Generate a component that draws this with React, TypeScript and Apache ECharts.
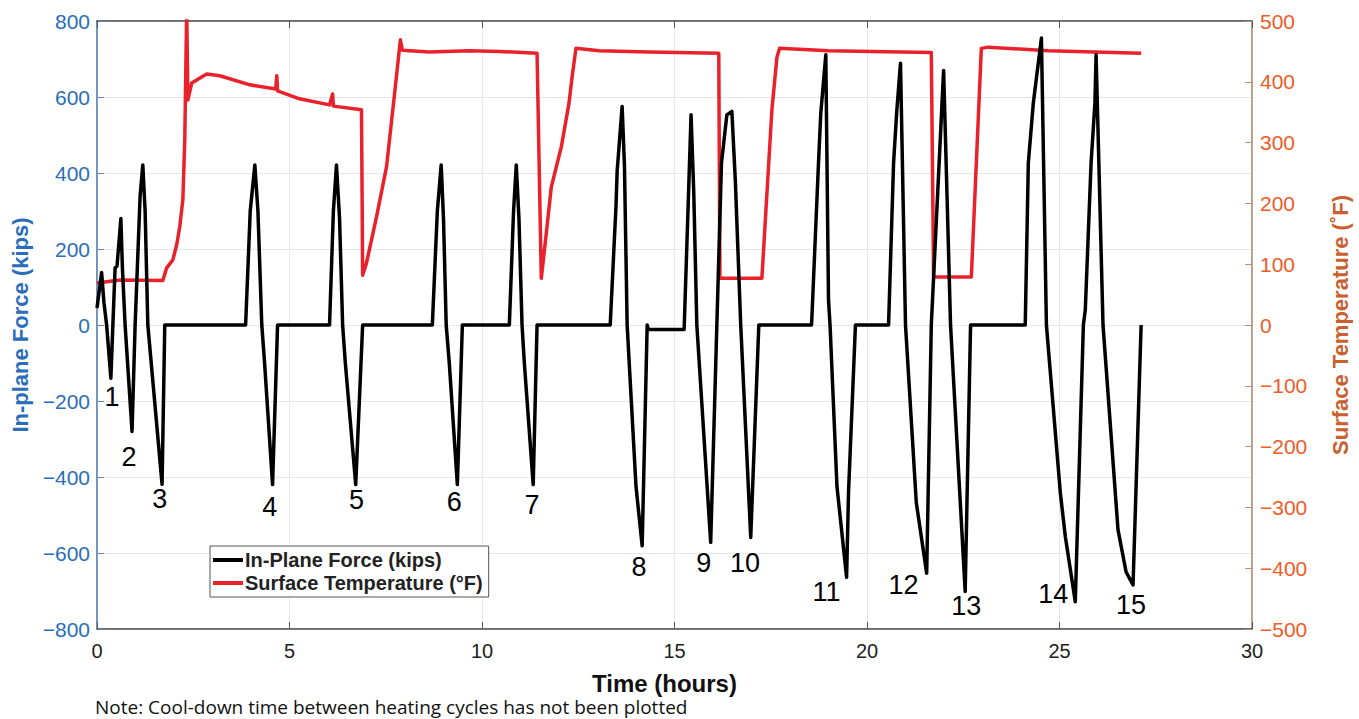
import React, { useEffect, useRef } from "react";
import * as echarts from "echarts";

// ---- Data ----
const forceTime = [
  0.0, 0.12, 0.18, 0.25, 0.36, 0.42, 0.47, 0.52, 0.62, 0.66, 0.73, 0.91, 0.99, 1.12, 1.19, 1.25, 1.32, 1.69, 1.76,
  3.86, 3.98, 4.10, 4.18, 4.28, 4.35, 4.56, 4.69,
  6.04, 6.14, 6.22, 6.30, 6.38, 6.45, 6.72, 6.90,
  8.71, 8.84, 8.94, 9.00, 9.07, 9.15, 9.36, 9.49,
  10.71, 10.82, 10.89, 10.96, 11.04, 11.10, 11.33, 11.43,
  13.33, 13.48, 13.51, 13.64, 13.70, 13.77, 14.00, 14.16, 14.29, 14.32, 15.25, 15.35, 15.43, 15.50, 15.58, 15.94,
  16.10, 16.22, 16.36, 16.49, 16.58, 16.72, 16.98, 17.19,
  18.56, 18.74, 18.80, 18.93, 19.00, 19.04, 19.22, 19.47, 19.52, 19.70,
  20.56, 20.69, 20.77, 20.87, 21.00, 21.28, 21.55, 21.67, 21.94, 21.99, 22.17, 22.55, 22.69,
  24.11, 24.19, 24.32, 24.53, 24.66, 25.02, 25.15, 25.41, 25.62, 25.67, 25.82, 25.92, 25.95, 26.13, 26.52, 26.73, 26.91, 27.12,
];
const forceKips = [
  45, 138, 60, 0, -140, 20, 150, 155, 280, 150, 0, -280, 0, 340, 421, 300, 0, -419, 0,
  0, 300, 421, 300, 0, -96, -420, 0,
  0, 300, 421, 280, 0, -100, -420, 0,
  0, 300, 421, 280, 0, -100, -420, 0,
  0, 300, 421, 280, 0, -100, -420, 0,
  0, 312, 404, 575, 420, 0, -425, -581, 0, -12, -12, 300, 553, 350, 0, -572,
  0, 426, 553, 562, 380, 0, -559, 0,
  0, 426, 558, 711, 66, 0, -425, -664, -440, 0,
  0, 426, 558, 689, 0, -467, -653, 0, 566, 670, 0, -701, 0,
  0, 426, 584, 755, 0, -440, -556, -728, 0, 40, 426, 584, 711, 0, -539, -650, -684, 0,
];

const tempTime = [
  0, 0.6, 1.71, 1.81, 1.97, 2.07, 2.15, 2.23, 2.28, 2.33,
  2.36, 2.46, 2.85, 3.19, 3.97, 4.64, 4.67, 4.69, 5.26, 6.04,
  6.12, 6.14, 6.87, 6.9, 7.0, 7.26, 7.52, 7.73, 7.88, 7.93,
  8.63, 9.67, 10.45, 11.43, 11.54, 11.67, 11.8, 12.06, 12.26, 12.34,
  12.44, 13.04, 14.34, 16.15, 16.18, 17.27, 17.53, 17.66, 17.73, 19.0,
  21.67, 21.73, 22.71, 22.97, 23.15, 24.71, 27.12,
];
const tempF = [
  69, 74, 73, 94, 107, 132, 162, 206, 305, 520,
  370, 398, 413, 410, 395, 388, 410, 385, 372, 362,
  380, 360, 354, 82, 102, 178, 260, 381, 469, 452,
  449, 451, 450, 447, 77, 151, 227, 293, 365, 408,
  455, 451, 449, 447, 77, 77, 354, 440, 455, 451,
  448, 79, 79, 455, 457, 451, 447,
];

const cycleLabels = ["1", "2", "3", "4", "5", "6", "7", "8", "9", "10", "11", "12", "13", "14", "15"];
const cycleLabelTime = [0.39, 0.83, 1.63, 4.49, 6.74, 9.28, 11.3, 14.08, 15.76, 16.83, 18.95, 20.95, 22.58, 24.84, 26.86];
const cycleLabelForce = [-189, -347, -458, -479, -461, -466, -474, -637, -626, -626, -703, -684, -739, -708, -737];

const FONT = "'Liberation Sans', Arial, Helvetica, sans-serif";
const BLUE = "#2A6DB9";
const ORANGE = "#EF5B27";
const ORANGE_TITLE = "#C8612F";
const RED = "#E8212B";

const fmt = (v: number) => (v < 0 ? "\u2212" + Math.abs(v) : String(v));

export default function App() {
  const ref = useRef<HTMLDivElement>(null);

  useEffect(() => {
    if (!ref.current) return;
    const chart = echarts.init(ref.current, undefined, { renderer: "svg" });

    const forceData = forceTime.map((t, i) => [t, forceKips[i]]);
    const tempData = tempTime.map((t, i) => [t, tempF[i]]);
    const labelData = cycleLabels.map((name, i) => ({ name, value: [cycleLabelTime[i], cycleLabelForce[i]] }));

    chart.setOption({
      animation: false,
      backgroundColor: "#ffffff",
      textStyle: { fontFamily: FONT },
      grid: {
        left: 97,
        right: 106,
        top: 21,
        bottom: 90,
        show: true,
        borderColor: "#666",
        borderWidth: 1,
        backgroundColor: "transparent",
      },
      legend: {
        left: 210,
        top: 546,
        orient: "vertical",
        backgroundColor: "#fff",
        borderColor: "#555",
        borderWidth: 1,
        borderRadius: 0,
        padding: [4, 6, 4, 3],
        itemGap: 3,
        itemWidth: 30,
        itemHeight: 4,
        textStyle: { fontFamily: FONT, fontSize: 20, fontWeight: "bold", color: "#222", padding: [0, 0, 0, -3] },
        data: [
          { name: "In-Plane Force (kips)", icon: "rect" },
          { name: "Surface Temperature (°F)", icon: "rect" },
        ],
      },
      xAxis: [
        {
          type: "value",
          min: 0,
          max: 30,
          interval: 5,
          name: "Time (hours)",
          nameLocation: "middle",
          nameGap: 42,
          nameTextStyle: { fontFamily: FONT, fontSize: 24, fontWeight: "bold", color: "#111", padding: [0, 20, 0, 0] },
          axisLine: { show: true, onZero: false, lineStyle: { color: "#555", width: 1.5 } },
          axisTick: { show: true, inside: true, length: 7, lineStyle: { color: "#555" } },
          axisLabel: { fontFamily: FONT, fontSize: 20, color: "#222", margin: 12 },
          splitLine: { show: true, lineStyle: { color: "#e4e8ec", width: 1 } },
        },
        {
          type: "value",
          position: "top",
          min: 0,
          max: 30,
          interval: 5,
          axisLine: { show: true, onZero: false, lineStyle: { color: "#555", width: 1.5 } },
          axisTick: { show: true, inside: true, length: 7, lineStyle: { color: "#555" } },
          axisLabel: { show: false },
          splitLine: { show: false },
        },
      ],
      yAxis: [
        {
          type: "value",
          min: -800,
          max: 800,
          interval: 200,
          position: "left",
          name: "In-plane Force (kips)",
          nameLocation: "middle",
          nameRotate: 90,
          nameGap: 63,
          nameTextStyle: { fontFamily: FONT, fontSize: 22, fontWeight: "bold", color: BLUE },
          axisLine: { show: true, onZero: false, lineStyle: { color: "#5A86BA", width: 1.5 } },
          axisTick: { show: true, inside: true, length: 7, lineStyle: { color: "#5A86BA" } },
          axisLabel: { fontFamily: FONT, fontSize: 21, color: BLUE, margin: 7, formatter: fmt },
          splitLine: { show: true, lineStyle: { color: "#e4e8ec", width: 1 } },
        },
        {
          type: "value",
          min: -500,
          max: 500,
          interval: 100,
          position: "right",
          name: "Surface Temperature (˚F)",
          nameLocation: "middle",
          nameRotate: 90,
          nameGap: 77,
          nameTextStyle: { fontFamily: FONT, fontSize: 22, fontWeight: "bold", color: ORANGE_TITLE },
          axisLine: { show: true, onZero: false, lineStyle: { color: "#B39479", width: 1.5 } },
          axisTick: { show: true, inside: true, length: 7, lineStyle: { color: "#B39479" } },
          axisLabel: { fontFamily: FONT, fontSize: 21, color: ORANGE, margin: 8, formatter: fmt },
          splitLine: { show: false },
        },
      ],
      series: [
        {
          name: "In-Plane Force (kips)",
          type: "line",
          xAxisIndex: 0,
          yAxisIndex: 0,
          data: forceData,
          showSymbol: false,
          symbol: "none",
          itemStyle: { color: "#000" },
          lineStyle: { color: "#000", width: 3.5, join: "round" },
          z: 3,
        },
        {
          name: "Surface Temperature (°F)",
          type: "line",
          xAxisIndex: 0,
          yAxisIndex: 1,
          data: tempData,
          showSymbol: false,
          symbol: "none",
          itemStyle: { color: RED },
          lineStyle: { color: RED, width: 3.5, join: "round" },
          z: 2,
        },
        {
          name: "cycles",
          type: "scatter",
          xAxisIndex: 0,
          yAxisIndex: 0,
          data: labelData,
          symbolSize: 1,
          itemStyle: { color: "rgba(0,0,0,0)" },
          label: {
            show: true,
            position: "inside",
            formatter: "{b}",
            fontFamily: FONT,
            fontSize: 27,
            color: "#000",
            opacity: 1,
            textBorderWidth: 0,
            textBorderColor: "transparent",
          },
          z: 4,
        },
      ],
      graphic: [
        {
          type: "text",
          left: 95,
          top: 697,
          style: {
            text: "Note: Cool-down time between heating cycles has not been plotted",
            fontFamily: "'Open Sans', 'Liberation Sans', Arial, sans-serif",
            fontSize: 19,
            fill: "#111",
          },
        },
      ],
    });

    return () => chart.dispose();
  }, []);

  return (
    <div
      ref={ref}
      style={{ position: "fixed", left: 0, top: 0, width: 1359, height: 719, background: "#fff" }}
    />
  );
}
